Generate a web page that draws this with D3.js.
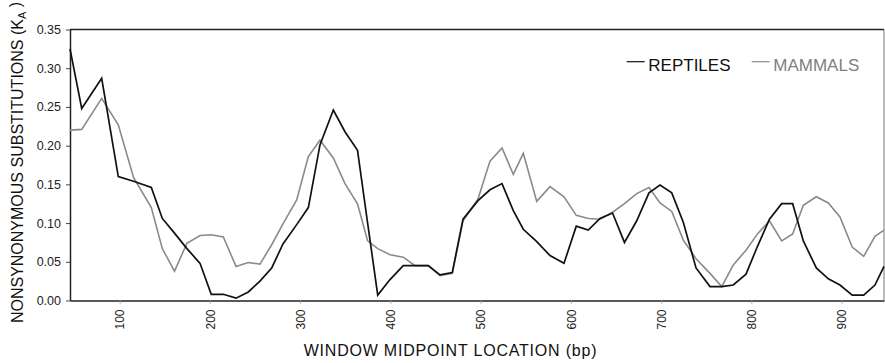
<!DOCTYPE html>
<html><head><meta charset="utf-8">
<script src="https://cdn.jsdelivr.net/npm/d3@7"></script>
<style>
body{margin:0;background:#fff}
svg{display:block}
text{font-family:"Liberation Sans",Arial,Helvetica,sans-serif}
</style>
</head><body>
<svg id="chart" width="885" height="363"></svg>
<script>
// Window midpoint locations (bp)
const positions = [45,58.0,80.1,98.5,115.4,135.1,147.3,160.8,174.6,189.1,201.5,214.9,229.0,242.6,255.5,268.5,281.0,296.2,309.1,322.0,336.8,349.7,363.6,374.8,386.0,399.6,414.3,427.3,442.0,455.0,468.6,480.5,497.1,510.4,523.7,536.2,547.3,562.2,576.9,592.4,606.0,619.3,632.3,646.2,659.4,673.0,686.6,698.8,711.8,724.6,738.7,754.2,767.2,780.0,794.1,806.8,820.1,833.6,845.8,857.6,872.0,885.3,898.2,911.8,924.5,937.0,947];
// Nonsynonymous substitutions (K_A)
const reptiles = [0.325,0.248,0.287,0.160,0.154,0.146,0.106,0.087,0.067,0.048,0.008,0.008,0.003,0.011,0.025,0.042,0.073,0.098,0.120,0.201,0.246,0.218,0.194,0.100,0.007,0.027,0.045,0.045,0.045,0.033,0.036,0.105,0.129,0.143,0.151,0.116,0.092,0.076,0.058,0.048,0.096,0.091,0.106,0.113,0.075,0.103,0.139,0.149,0.139,0.101,0.042,0.018,0.018,0.020,0.034,0.070,0.105,0.125,0.125,0.077,0.042,0.028,0.020,0.007,0.007,0.020,0.044];
const mammals = [0.220,0.221,0.261,0.227,0.159,0.120,0.067,0.038,0.074,0.084,0.085,0.082,0.044,0.049,0.047,0.072,0.099,0.130,0.186,0.207,0.184,0.151,0.125,0.077,0.067,0.059,0.056,0.045,0.045,0.032,0.035,0.103,0.131,0.180,0.197,0.163,0.190,0.128,0.147,0.134,0.110,0.106,0.105,0.114,0.125,0.138,0.146,0.126,0.115,0.078,0.054,0.035,0.018,0.046,0.065,0.086,0.103,0.077,0.086,0.123,0.134,0.126,0.108,0.069,0.057,0.083,0.091];
const xTicks = [100,200,300,400,500,600,700,800,900];
const yTicks = [0,0.05,0.10,0.15,0.20,0.25,0.30,0.35];
const seriesNames = ["REPTILES","MAMMALS"];
const seriesColors = ["#111111","#8a8a8a"];

const svg = d3.select("#chart");
const L = 70, R = 884, T = 29.5, B = 300.5;
const x = d3.scaleLinear().domain([45, 947]).range([L, R]);
const y = d3.scaleLinear().domain([0, 0.35]).range([B, T]);

// frame: top & right
svg.append("line").attr("x1", L).attr("x2", R).attr("y1", T).attr("y2", T)
  .attr("stroke", "#222").attr("stroke-width", 1.3);
svg.append("line").attr("x1", R).attr("x2", R).attr("y1", T).attr("y2", B)
  .attr("stroke", "#777").attr("stroke-width", 1);

// y axis
const ya = svg.append("g").attr("transform", `translate(${L},0)`)
  .call(d3.axisLeft(y).tickValues(yTicks).tickFormat(d3.format(".2f")).tickSize(4).tickPadding(5).tickSizeOuter(0));
ya.select(".domain").attr("stroke", "#222").attr("stroke-width", 1.5);
ya.selectAll(".tick line").attr("stroke", "#444");
ya.selectAll(".tick text").attr("font-size", 12.5).attr("fill", "#222")
  .style("font-family", '"Liberation Sans",Arial,sans-serif');

// x axis
const xa = svg.append("g").attr("transform", `translate(0,${B})`)
  .call(d3.axisBottom(x).tickValues(xTicks).tickFormat(d3.format("d")).tickSize(3).tickSizeOuter(0));
xa.select(".domain").attr("stroke", "#222").attr("stroke-width", 1.5);
xa.selectAll(".tick line").attr("stroke", "#999");
xa.selectAll(".tick text")
  .attr("font-size", 12).attr("fill", "#222")
  .style("font-family", '"Liberation Sans",Arial,sans-serif')
  .attr("text-anchor", "end")
  .attr("transform", "rotate(-90)")
  .attr("x", -9).attr("y", 0).attr("dy", "0.35em");

// lines
const lineGen = d3.line().x((d, i) => x(positions[i])).y(d => y(d));
[mammals, reptiles].forEach((s, k) => {
  const idx = k === 0 ? 1 : 0;
  svg.append("path").datum(s)
    .attr("fill", "none")
    .attr("stroke", seriesColors[idx])
    .attr("stroke-width", idx === 0 ? 1.7 : 1.6)
    .attr("stroke-linejoin", "miter")
    .attr("d", lineGen);
});

// legend
const legend = [
  {name: seriesNames[0], color: seriesColors[0], lx: 626.7, tx: 648.3},
  {name: seriesNames[1], color: seriesColors[1], lx: 751.7, tx: 773.3}
];
legend.forEach(l => {
  svg.append("line").attr("x1", l.lx).attr("x2", l.lx + 18).attr("y1", 61.7).attr("y2", 61.7)
    .attr("stroke", l.color).attr("stroke-width", 1.2);
  svg.append("text").attr("x", l.tx).attr("y", 71).attr("font-size", 17)
    .attr("fill", l.color === "#111111" ? "#111" : "#808080").text(l.name);
});

// axis titles
svg.append("text").attr("x", 450.5).attr("y", 356).attr("text-anchor", "middle")
  .attr("font-size", 16).attr("letter-spacing", "0.8px").attr("fill", "#111")
  .text("WINDOW MIDPOINT LOCATION (bp)");

const yt = svg.append("text").attr("transform", "translate(22.5,162.5) rotate(-90)")
  .attr("text-anchor", "middle").attr("font-size", 16).attr("fill", "#111");
yt.append("tspan").text("NONSYNONYMOUS SUBSTITUTIONS (K");
yt.append("tspan").attr("font-size", 11).attr("dy", "0.35em").text("A");
yt.append("tspan").attr("dy", "-0.35em").text(" )");
</script>
</body></html>
